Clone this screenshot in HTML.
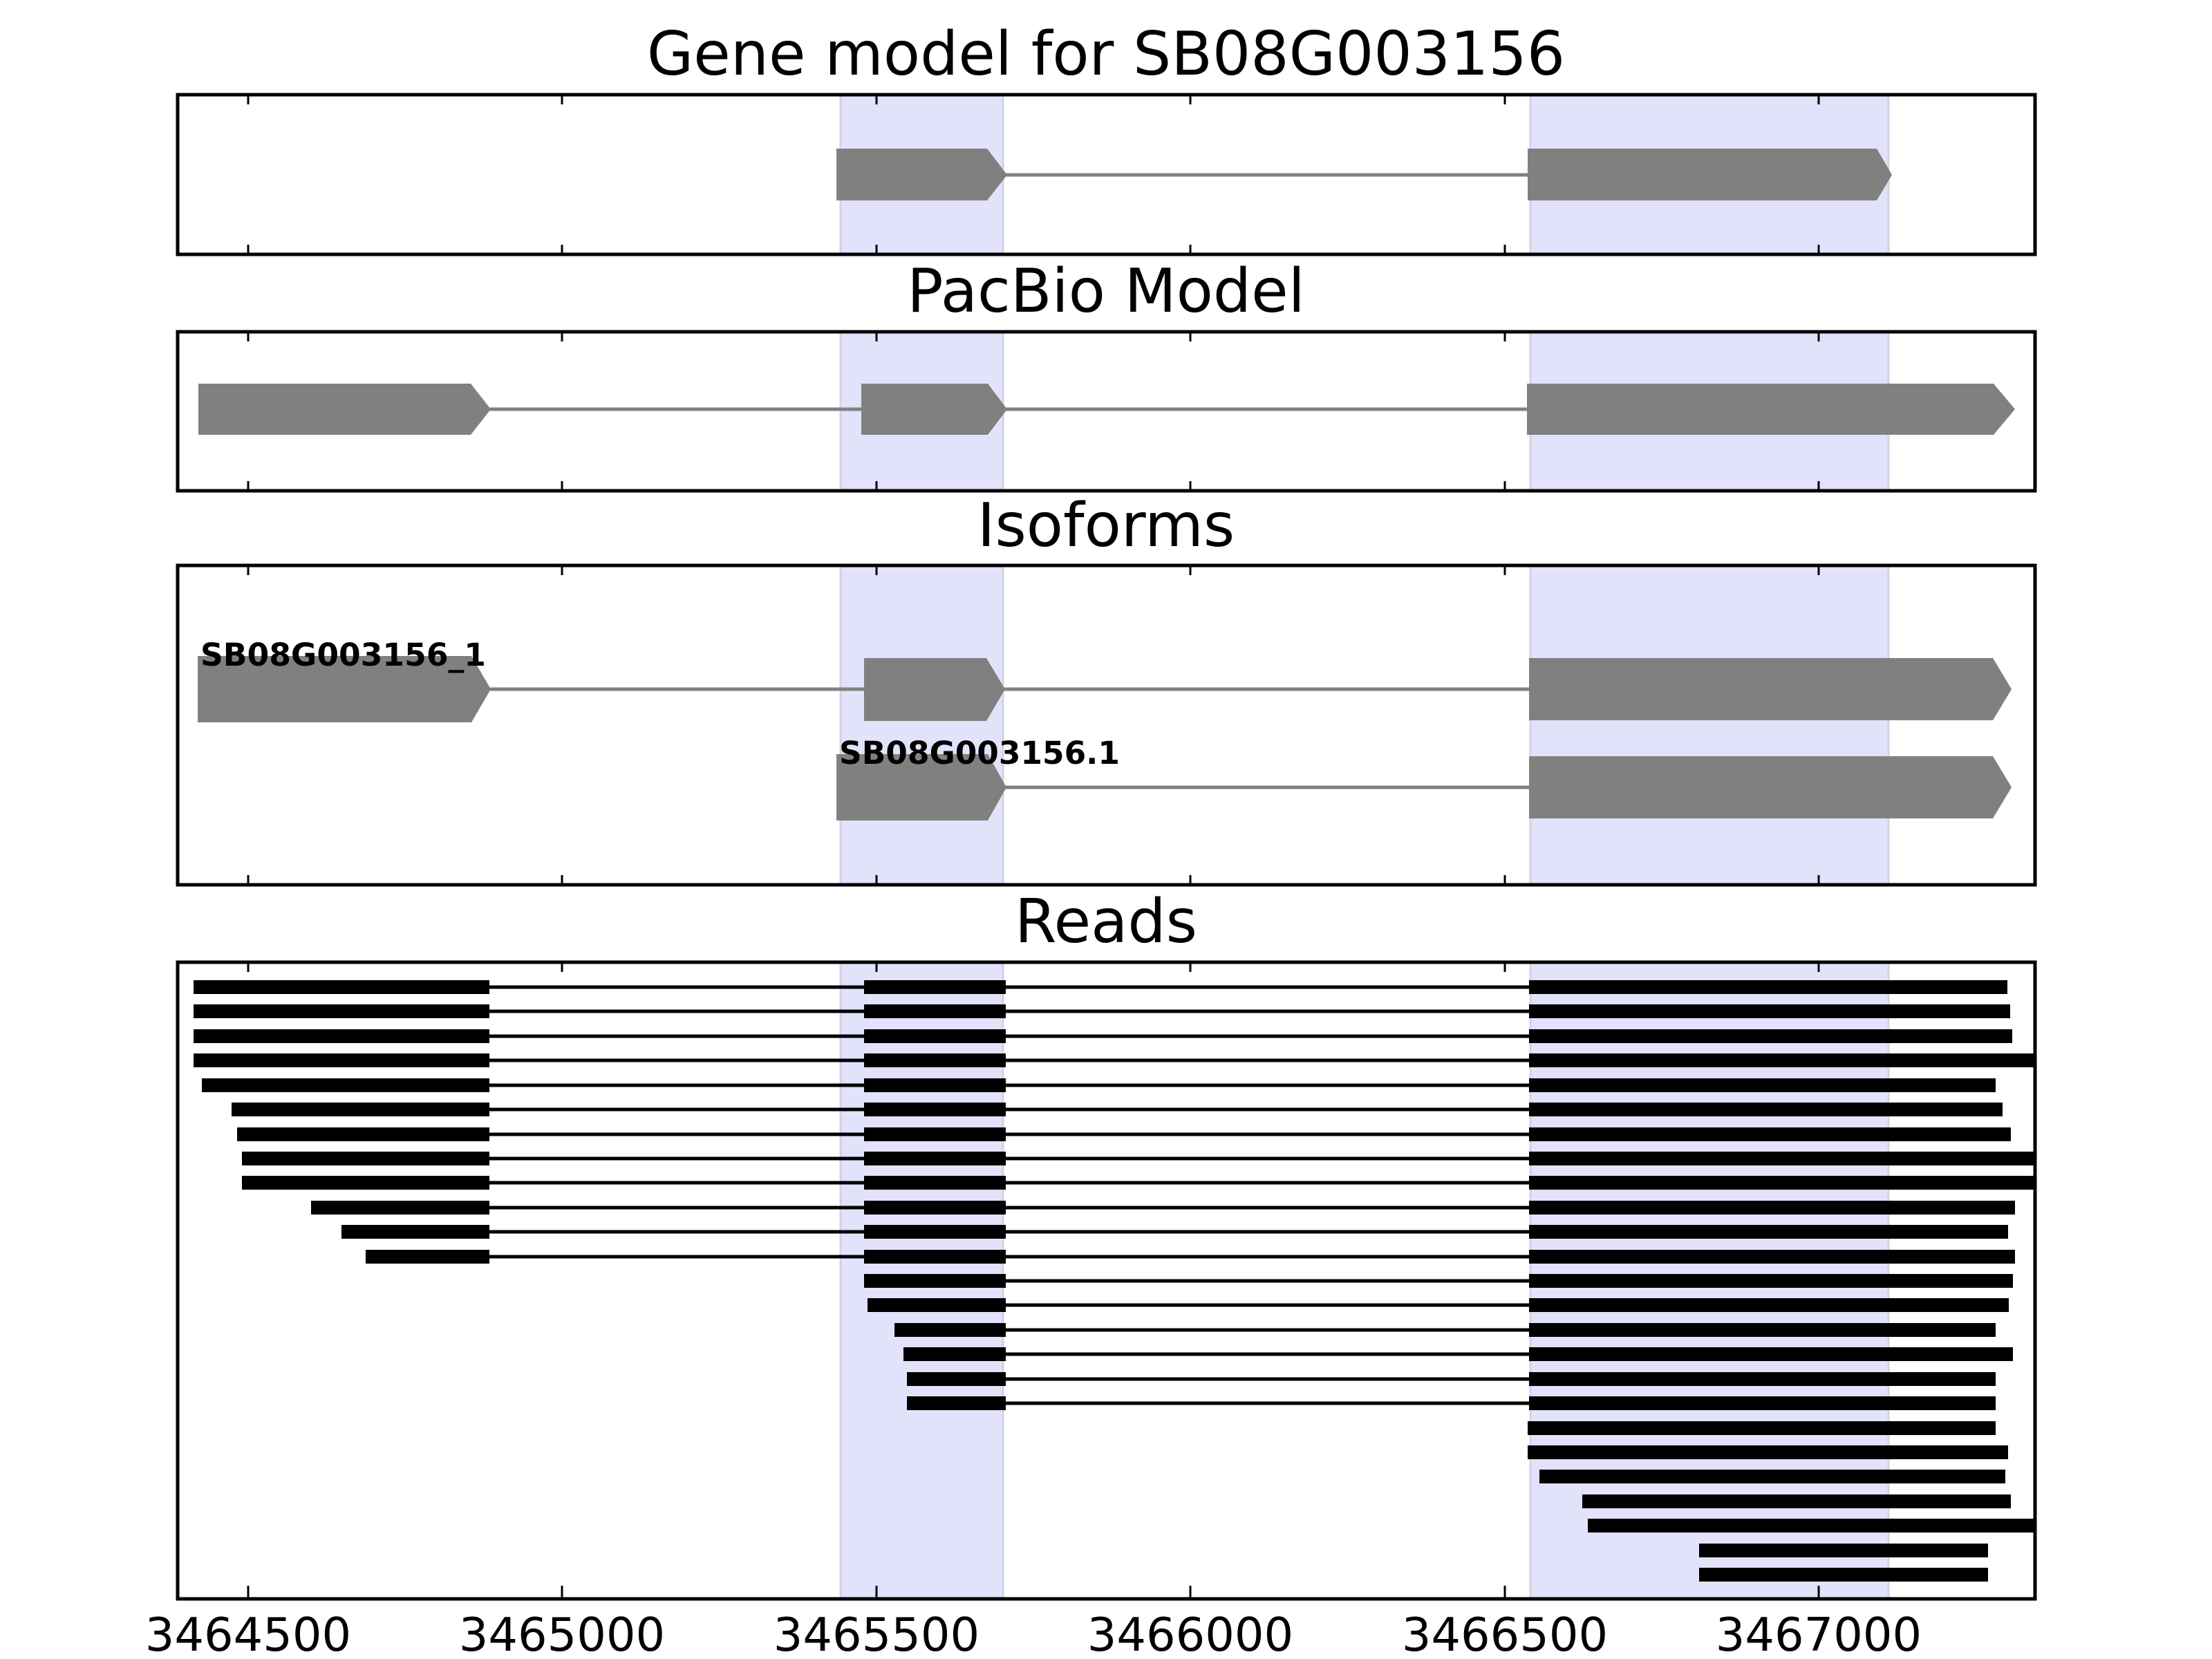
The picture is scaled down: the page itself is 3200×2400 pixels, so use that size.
<!DOCTYPE html>
<html><head><meta charset="utf-8"><style>html,body{margin:0;padding:0;background:#fff}svg{display:block}</style></head>
<body>
<svg width="3200" height="2400" viewBox="0 0 3200 2400" xmlns="http://www.w3.org/2000/svg" font-family="DejaVu Sans, Liberation Sans, sans-serif">
<rect width="3200" height="2400" fill="#fff"/>
<g font-size="87" text-anchor="middle" fill="#000">
<text x="1600" y="108">Gene model for SB08G003156</text>
<text x="1600" y="451">PacBio Model</text>
<text x="1600" y="790">Isoforms</text>
<text x="1600" y="1363">Reads</text>
</g>
<!-- bands -->
<g fill="#e2e2fb" stroke="#d2d2e6" stroke-width="3">
<rect x="1216" y="137" width="235" height="231"/><rect x="2214" y="137" width="518" height="231"/>
<rect x="1216" y="480" width="235" height="230"/><rect x="2214" y="480" width="518" height="230"/>
<rect x="1216" y="818" width="235" height="462"/><rect x="2214" y="818" width="518" height="462"/>
<rect x="1216" y="1392" width="235" height="921"/><rect x="2214" y="1392" width="518" height="921"/>
</g>
<g fill="#808080">
<line x1="1450" y1="253" x2="2215" y2="253" stroke="#808080" stroke-width="5"/>
<polygon points="1210,215 1428,215 1457,253 1428,290 1210,290"/>
<polygon points="2210,215 2715,215 2737,253 2715,290 2210,290"/>
<line x1="700" y1="592" x2="2215" y2="592" stroke="#808080" stroke-width="5"/>
<polygon points="287,555 681,555 710,592 681,629 287,629"/>
<polygon points="1246,555 1429,555 1457,592 1429,629 1246,629"/>
<polygon points="2209,555 2884,555 2915,592 2884,629 2209,629"/>
<line x1="700" y1="997" x2="2215" y2="997" stroke="#808080" stroke-width="5"/>
<polygon points="286,949 682,949 710,997 682,1045 286,1045"/>
<polygon points="1250,952 1427,952 1454,997 1427,1043 1250,1043"/>
<polygon points="2212,952 2883,952 2910,997 2883,1042 2212,1042"/>
<line x1="1440" y1="1139" x2="2215" y2="1139" stroke="#808080" stroke-width="5"/>
<polygon points="1210,1091 1429,1091 1456,1139 1429,1187 1210,1187"/>
<polygon points="2212,1094 2883,1094 2910,1139 2883,1184 2212,1184"/>
</g>
<g font-size="45" font-weight="bold" fill="#000">
<text x="290" y="963" textLength="413" lengthAdjust="spacingAndGlyphs">SB08G003156_1</text>
<text x="1214" y="1105" textLength="406" lengthAdjust="spacingAndGlyphs">SB08G003156.1</text>
</g>
<clipPath id="c"><rect x="255" y="1392" width="2689" height="921"/></clipPath>
<g clip-path="url(#c)" fill="#000">
<g stroke="#000" stroke-width="5">
<line x1="700" y1="1428" x2="2215" y2="1428"/><line x1="700" y1="1463" x2="2215" y2="1463"/>
<line x1="700" y1="1499" x2="2215" y2="1499"/><line x1="700" y1="1534" x2="2215" y2="1534"/>
<line x1="700" y1="1570" x2="2215" y2="1570"/><line x1="700" y1="1605" x2="2215" y2="1605"/>
<line x1="700" y1="1641" x2="2215" y2="1641"/><line x1="700" y1="1676" x2="2215" y2="1676"/>
<line x1="700" y1="1711" x2="2215" y2="1711"/><line x1="700" y1="1747" x2="2215" y2="1747"/>
<line x1="700" y1="1782" x2="2215" y2="1782"/><line x1="700" y1="1818" x2="2215" y2="1818"/>
<line x1="1440" y1="1853" x2="2215" y2="1853"/><line x1="1440" y1="1888" x2="2215" y2="1888"/>
<line x1="1440" y1="1924" x2="2215" y2="1924"/><line x1="1440" y1="1959" x2="2215" y2="1959"/>
<line x1="1440" y1="1995" x2="2215" y2="1995"/><line x1="1440" y1="2030" x2="2215" y2="2030"/>
</g>
<rect x="280" y="1418" width="428" height="20"/><rect x="280" y="1453" width="428" height="20"/>
<rect x="280" y="1489" width="428" height="20"/><rect x="280" y="1524" width="428" height="20"/>
<rect x="292" y="1560" width="416" height="20"/><rect x="335" y="1595" width="373" height="20"/>
<rect x="343" y="1631" width="365" height="20"/><rect x="350" y="1666" width="358" height="20"/>
<rect x="350" y="1701" width="358" height="20"/><rect x="450" y="1737" width="258" height="20"/>
<rect x="494" y="1772" width="214" height="20"/><rect x="529" y="1808" width="179" height="20"/>
<rect x="1250" y="1418" width="205" height="20"/><rect x="1250" y="1453" width="205" height="20"/>
<rect x="1250" y="1489" width="205" height="20"/><rect x="1250" y="1524" width="205" height="20"/>
<rect x="1250" y="1560" width="205" height="20"/><rect x="1250" y="1595" width="205" height="20"/>
<rect x="1250" y="1631" width="205" height="20"/><rect x="1250" y="1666" width="205" height="20"/>
<rect x="1250" y="1701" width="205" height="20"/><rect x="1250" y="1737" width="205" height="20"/>
<rect x="1250" y="1772" width="205" height="20"/><rect x="1250" y="1808" width="205" height="20"/>
<rect x="1250" y="1843" width="205" height="20"/><rect x="1255" y="1878" width="200" height="20"/>
<rect x="1294" y="1914" width="161" height="20"/><rect x="1307" y="1949" width="148" height="20"/>
<rect x="1312" y="1985" width="143" height="20"/><rect x="1312" y="2020" width="143" height="20"/>
<rect x="2212" y="1418" width="692" height="20"/><rect x="2212" y="1453" width="696" height="20"/>
<rect x="2212" y="1489" width="699" height="20"/><rect x="2212" y="1524" width="740" height="20"/>
<rect x="2212" y="1560" width="675" height="20"/><rect x="2212" y="1595" width="685" height="20"/>
<rect x="2212" y="1631" width="697" height="20"/><rect x="2212" y="1666" width="740" height="20"/>
<rect x="2212" y="1701" width="740" height="20"/><rect x="2212" y="1737" width="703" height="20"/>
<rect x="2212" y="1772" width="693" height="20"/><rect x="2212" y="1808" width="703" height="20"/>
<rect x="2212" y="1843" width="700" height="20"/><rect x="2212" y="1878" width="694" height="20"/>
<rect x="2212" y="1914" width="675" height="20"/><rect x="2212" y="1949" width="700" height="20"/>
<rect x="2212" y="1985" width="675" height="20"/><rect x="2212" y="2020" width="675" height="20"/>
<rect x="2210" y="2056" width="677" height="20"/><rect x="2210" y="2091" width="695" height="20"/>
<rect x="2227" y="2126" width="674" height="20"/><rect x="2289" y="2162" width="620" height="20"/>
<rect x="2297" y="2197" width="655" height="20"/><rect x="2458" y="2233" width="418" height="20"/>
<rect x="2458" y="2268" width="418" height="20"/>
</g>
<g fill="none" stroke="#000" stroke-width="5">
<rect x="257" y="137" width="2687" height="231"/>
<rect x="257" y="480" width="2687" height="230"/>
<rect x="257" y="818" width="2687" height="462"/>
<rect x="257" y="1392" width="2687" height="921"/>
</g>
<g stroke="#000" stroke-width="3">
<path d="M359 137v14M813 137v14M1268 137v14M1722 137v14M2177 137v14M2631 137v14M359 368v-14M813 368v-14M1268 368v-14M1722 368v-14M2177 368v-14M2631 368v-14"/>
<path d="M359 480v14M813 480v14M1268 480v14M1722 480v14M2177 480v14M2631 480v14M359 710v-14M813 710v-14M1268 710v-14M1722 710v-14M2177 710v-14M2631 710v-14"/>
<path d="M359 818v14M813 818v14M1268 818v14M1722 818v14M2177 818v14M2631 818v14M359 1280v-14M813 1280v-14M1268 1280v-14M1722 1280v-14M2177 1280v-14M2631 1280v-14"/>
<path d="M359 1392v14M813 1392v14M1268 1392v14M1722 1392v14M2177 1392v14M2631 1392v14M359 2313v-19M813 2313v-19M1268 2313v-19M1722 2313v-19M2177 2313v-19M2631 2313v-19"/>
</g>
<g font-size="67" text-anchor="middle" fill="#000">
<text x="359" y="2388">3464500</text><text x="813" y="2388">3465000</text>
<text x="1268" y="2388">3465500</text><text x="1722" y="2388">3466000</text>
<text x="2177" y="2388">3466500</text><text x="2631" y="2388">3467000</text>
</g>
</svg>
</body></html>
